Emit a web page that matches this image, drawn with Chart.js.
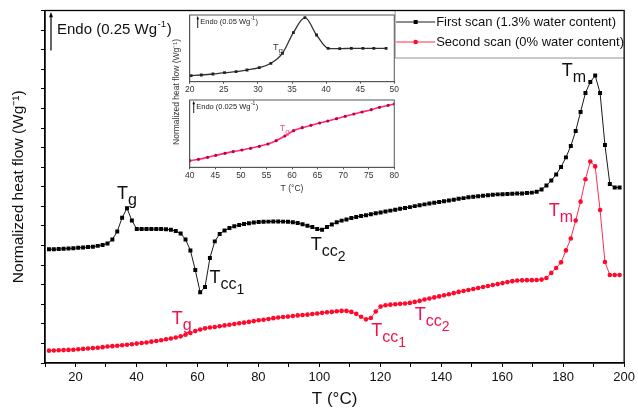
<!DOCTYPE html>
<html>
<head>
<meta charset="utf-8">
<script src="https://cdn.jsdelivr.net/npm/chart.js@4.4.0/dist/chart.umd.min.js"></script>
<style>
html,body{margin:0;padding:0;background:#fff;}
#wrap{position:relative;width:638px;height:412px;overflow:hidden;}
canvas{position:absolute;}
#main{left:0;top:0;width:638px;height:412px;}
#in1{left:184px;top:8px;width:216px;height:92px;}
#in2{left:184px;top:96px;width:216px;height:100px;}
</style>
</head>
<body>
<div id="wrap">
<canvas id="main" width="638" height="412"></canvas>
<canvas id="in1" width="216" height="92"></canvas>
<canvas id="in2" width="216" height="100"></canvas>
</div>
<script>
// ---------------- DATA ----------------
const temperature = [11.3,12.9,14.5,16.1,17.7,19.3,20.9,22.5,24.1,25.7,27.3,28.9,30.5,32.1,33.7,35.3,36.9,38.5,40.1,41.7,
43.3,44.9,46.5,48.1,49.7,51.3,52.9,54.5,56.1,57.7,59.3,60.9,62.5,64.1,65.7,67.3,68.9,70.5,72.1,73.7,
75.3,76.9,78.5,80.1,81.7,83.3,84.9,86.5,88.1,89.7,91.3,92.9,94.5,96.1,97.7,99.3,100.9,102.5,104.1,105.7,
107.3,108.9,110.5,112.1,113.7,115.3,116.9,118.5,120.1,121.7,123.3,124.9,126.5,128.1,129.7,131.3,132.9,134.5,136.1,137.7,
139.3,140.9,142.5,144.1,145.7,147.3,148.9,150.5,152.1,153.7,155.3,156.9,158.5,160.1,161.7,163.3,164.9,166.5,168.1,169.7,
171.3,172.9,174.5,176.1,177.7,179.3,180.9,182.5,184.1,185.7,187.3,188.9,190.5,192.1,193.7,195.3,196.9,198.5];

const firstScanFlow = [5.81,5.81,5.82,5.83,5.85,5.86,5.88,5.90,5.92,5.94,
5.98,6.03,6.10,6.31,6.72,7.42,7.90,7.28,6.84,6.84,
6.84,6.84,6.84,6.84,6.83,6.80,6.74,6.61,6.31,5.75,
4.75,3.61,3.88,5.36,6.21,6.59,6.77,6.89,6.98,7.05,
7.10,7.14,7.17,7.20,7.21,7.22,7.23,7.23,7.22,7.21,
7.19,7.15,7.08,7.01,6.94,6.84,6.80,6.95,7.07,7.19,
7.27,7.33,7.40,7.45,7.51,7.55,7.60,7.65,7.69,7.74,
7.78,7.83,7.88,7.92,7.96,8.01,8.05,8.10,8.14,8.18,
8.22,8.26,8.30,8.34,8.39,8.42,8.46,8.49,8.52,8.54,
8.57,8.59,8.61,8.62,8.63,8.64,8.65,8.66,8.68,8.70,
8.74,8.86,9.06,9.32,9.63,10.01,10.50,11.08,11.85,12.82,
13.79,14.35,14.68,13.79,11.13,9.14,8.96,8.96];

const secondScanFlow = [0.63,0.64,0.65,0.66,0.67,0.68,0.70,0.72,0.74,0.76,
0.78,0.81,0.84,0.86,0.88,0.91,0.93,0.96,0.99,1.02,
1.05,1.09,1.12,1.16,1.21,1.25,1.30,1.36,1.44,1.53,
1.63,1.71,1.77,1.81,1.84,1.88,1.92,1.95,1.99,2.03,
2.06,2.10,2.14,2.18,2.21,2.25,2.29,2.32,2.35,2.37,
2.40,2.43,2.45,2.47,2.50,2.53,2.56,2.59,2.61,2.64,
2.66,2.66,2.61,2.51,2.36,2.23,2.30,2.63,2.88,2.95,
2.98,3.00,3.02,3.04,3.07,3.12,3.17,3.24,3.29,3.35,
3.40,3.46,3.51,3.57,3.63,3.68,3.73,3.78,3.83,3.88,
3.93,3.98,4.03,4.08,4.13,4.18,4.21,4.22,4.23,4.23,
4.24,4.26,4.34,4.60,4.85,5.14,5.75,6.36,7.28,8.24,
9.38,10.29,10.04,7.81,5.16,4.49,4.49,4.49];

const xTickLabels = [20,40,60,80,100,120,140,160,180,200];

const inset1Temp = [20.2,21.7,23.4,25.1,26.8,28.4,30.2,31.9,33.6,35.2,36.9,38.6,40.3,42.0,43.7,45.4,47.0,48.8];
const inset1Flow = [6.0,6.7,7.7,9.0,10.0,11.7,14.0,18.4,28.4,49.0,64.0,46.7,33.4,33.0,33.4,33.4,33.4,33.4];

const inset2Temp = [40.0,41.7,43.5,45.1,46.9,48.5,50.2,51.9,53.6,55.3,56.9,58.6,60.3,62.0,63.7,65.4,67.0,68.7,70.4,72.1,73.7,75.5,77.1,78.8,80.0];
const inset2Flow = [6.6,8.0,10.0,12.0,14.0,15.7,17.3,19.0,21.0,23.3,26.6,31.3,36.6,39.6,42.0,44.3,46.3,48.6,51.0,53.3,55.3,57.6,60.0,62.0,63.3];

const seriesNames = ['First scan (1.3% water content)','Second scan (0% water content)'];

// transition labels: main letter, subscript, sub-subscript, position (T, flow)
const peakLabels = [
  {main:'T', sub:'g',  sub2:'',  t:33.6,  v:8.40, series:0},
  {main:'T', sub:'cc', sub2:'1', t:64.0,  v:4.09, series:0},
  {main:'T', sub:'cc', sub2:'2', t:97.2,  v:5.77, series:0},
  {main:'T', sub:'m',  sub2:'',  t:179.5, v:14.66, series:0},
  {main:'T', sub:'g',  sub2:'',  t:51.6,  v:1.99, series:1},
  {main:'T', sub:'cc', sub2:'1', t:117.0, v:1.38, series:1},
  {main:'T', sub:'cc', sub2:'2', t:131.3, v:2.20, series:1},
  {main:'T', sub:'m',  sub2:'',  t:175.3, v:7.53, series:1}
];

// ---------------- STYLE ----------------
const FONT = "'Liberation Sans', Arial, Helvetica, sans-serif";
const BLACK = '#111111';
const RED_LINE = '#ff2a55';
const RED_PT = '#ff0a2a';
const RED_TXT = '#f0124e';

function drawSubText(ctx, x, y, lab, color, s) {
  ctx.fillStyle = color;
  ctx.textAlign = 'left';
  ctx.textBaseline = 'alphabetic';
  ctx.font = s[0] + 'px ' + FONT;
  ctx.fillText(lab.main, x, y);
  x += ctx.measureText(lab.main).width;
  if (lab.sub) {
    ctx.font = s[1] + 'px ' + FONT;
    ctx.fillText(lab.sub, x, y + s[3]);
    x += ctx.measureText(lab.sub).width;
  }
  if (lab.sub2) {
    ctx.font = s[2] + 'px ' + FONT;
    ctx.fillText(lab.sub2, x, y + s[4]);
  }
}

function drawArrow(ctx, x, y0, y1, head, color, lw) {
  ctx.save();
  ctx.strokeStyle = color; ctx.fillStyle = color; ctx.lineWidth = lw;
  ctx.beginPath(); ctx.moveTo(x, y0); ctx.lineTo(x, y1 + head); ctx.stroke();
  ctx.beginPath(); ctx.moveTo(x, y1); ctx.lineTo(x - head * 0.5, y1 + head * 1.3); ctx.lineTo(x + head * 0.5, y1 + head * 1.3); ctx.closePath(); ctx.fill();
  ctx.restore();
}

function drawEndo(ctx, x, y, value, size, color) {
  ctx.save();
  ctx.fillStyle = color; ctx.textAlign = 'left'; ctx.textBaseline = 'alphabetic';
  ctx.font = size + 'px ' + FONT;
  const t1 = 'Endo (' + value + ' Wg';
  ctx.fillText(t1, x, y);
  let w = ctx.measureText(t1).width;
  ctx.font = (size * 0.65) + 'px ' + FONT;
  ctx.fillText('-1', x + w + 0.5, y - size * 0.42);
  w += ctx.measureText('-1').width + 1;
  ctx.font = size + 'px ' + FONT;
  ctx.fillText(')', x + w, y);
  ctx.restore();
}

const boxPlugin = {
  id: 'boxFrame',
  afterDraw(chart, args, opts) {
    const {ctx, chartArea: a} = chart;
    ctx.save();
    ctx.strokeStyle = opts.color || '#000';
    ctx.lineWidth = opts.width || 1;
    ctx.strokeRect(a.left, a.top, a.right - a.left, a.bottom - a.top);
    ctx.restore();
  }
};

const mainDecor = {
  id: 'mainDecor',
  afterDatasetsDraw(chart) {
    const {ctx, chartArea: a, scales} = chart;
    const xs = scales.x, ys = scales.y;
    ctx.save();
    // transition labels
    peakLabels.forEach(l => {
      const px = xs.getPixelForValue(l.t), py = ys.getPixelForValue(l.v);
      drawSubText(ctx, px, py, l, l.series === 0 ? BLACK : RED_TXT, [18, 16, 14, 6, 11]);
    });
    // endo arrow
    drawArrow(ctx, a.left + 6, a.top + 40, a.top + 1.5, 4, '#000', 1.2);
    drawEndo(ctx, a.left + 12, a.top + 23, '0.25', 15, BLACK);
    // legend
    const lx = a.right - 229, lyTop = a.top;
    ctx.strokeStyle = '#777'; ctx.lineWidth = 0.8;
    ctx.beginPath(); ctx.moveTo(lx, lyTop); ctx.lineTo(lx, lyTop + 47.5); ctx.lineTo(a.right, lyTop + 47.5); ctx.stroke();
    chart.data.datasets.forEach((ds, i) => {
      const y = lyTop + 11.5 + i * 20;
      ctx.strokeStyle = ds.borderColor; ctx.lineWidth = 1;
      ctx.beginPath(); ctx.moveTo(lx + 1, y); ctx.lineTo(lx + 40, y); ctx.stroke();
      ctx.fillStyle = ds.pointBackgroundColor;
      if (ds.pointStyle === 'rect') { ctx.fillRect(lx + 18.5, y - 2, 4, 4); }
      else { ctx.beginPath(); ctx.arc(lx + 20.5, y, 2.3, 0, Math.PI * 2); ctx.fill(); }
      ctx.fillStyle = BLACK; ctx.font = '13px ' + FONT; ctx.textBaseline = 'middle'; ctx.textAlign = 'left';
      ctx.fillText(ds.label, lx + 41, y + 0.5);
    });
    // inset shared y title
    ctx.translate(176.5, 92);
    ctx.rotate(-Math.PI / 2);
    ctx.fillStyle = '#333'; ctx.font = '8.5px ' + FONT; ctx.textAlign = 'center'; ctx.textBaseline = 'middle';
    ctx.fillText('Normalized heat flow (Wg\u207B\u00B9)', 0, 0);
    ctx.restore();
  }
};

Chart.defaults.font.family = FONT;

new Chart(document.getElementById('main'), {
  type: 'line',
  data: {
    datasets: [
      {
        label: seriesNames[0],
        data: temperature.map((t, i) => ({x: t, y: firstScanFlow[i]})),
        borderColor: '#1a1a1a', borderWidth: 1,
        pointStyle: 'rect', pointRadius: 2.8, pointBackgroundColor: '#000', pointBorderWidth: 0,
        tension: 0
      },
      {
        label: seriesNames[1],
        data: temperature.map((t, i) => ({x: t, y: secondScanFlow[i]})),
        borderColor: RED_LINE, borderWidth: 1,
        pointStyle: 'circle', pointRadius: 2.3, pointBackgroundColor: RED_PT, pointBorderWidth: 0,
        tension: 0
      }
    ]
  },
  options: {
    responsive: false, animation: false, devicePixelRatio: 1,
    layout: {autoPadding: false, padding: {top: 10.5, right: 9, left: 0, bottom: 0}},
    plugins: {legend: {display: false}, tooltip: {enabled: false}, boxFrame: {color: '#000', width: 1.3}},
    scales: {
      x: {
        type: 'linear', min: 10, max: 200,
        ticks: {stepSize: 10, autoSkip: false, maxRotation: 0, padding: 3, color: BLACK,
          font: {size: 13}, callback: v => xTickLabels.includes(v) ? String(v) : ''},
        grid: {drawOnChartArea: false, drawTicks: true, tickLength: 4, color: '#000', lineWidth: 1},
        border: {display: true, color: '#000', width: 1.3},
        title: {display: true, text: 'T (\u00B0C)', color: BLACK, font: {size: 17}, padding: {top: 0, bottom: 2}},
        afterFit: s => { s.height = 49; }
      },
      y: {
        type: 'linear', min: 0, max: 18,
        ticks: {stepSize: 1, display: false},
        grid: {drawOnChartArea: false, drawTicks: true, tickLength: 4, color: '#000', lineWidth: 1},
        border: {display: true, color: '#000', width: 1.3},
        title: {display: true, text: 'Normalized heat flow (Wg\u207B\u00B9)', color: BLACK, font: {size: 15.5}, padding: {top: 9, bottom: 0}},
        afterFit: s => { s.width = 45; }
      }
    }
  },
  plugins: [boxPlugin, mainDecor]
});

function insetDecor(id, endoValue, endoOffset, tgLabel, tgColor, tgSize) {
  return {
    id: id,
    afterDatasetsDraw(chart) {
      const {ctx, chartArea: a, scales} = chart;
      ctx.save();
      drawArrow(ctx, a.left + endoOffset, a.top + 13, a.top + 1, 2.5, '#000', 0.9);
      drawEndo(ctx, a.left + endoOffset + 2.5, a.top + 8.5, endoValue, 7.5, '#222');
      const px = scales.x.getPixelForValue(tgLabel.t), py = scales.y.getPixelForValue(tgLabel.v);
      drawSubText(ctx, px, py, tgLabel, tgColor, [tgSize, tgSize - 1, tgSize - 2, 3, 5]);
      ctx.restore();
    }
  };
}

const insetTicks = {padding: 1, color: '#333', font: {size: 8.5}, maxRotation: 0, autoSkip: false};

new Chart(document.getElementById('in1'), {
  type: 'line',
  data: {datasets: [{
    label: seriesNames[0],
    data: inset1Temp.map((t, i) => ({x: t, y: inset1Flow[i]})),
    borderColor: '#333', borderWidth: 1.3, cubicInterpolationMode: 'monotone',
    pointStyle: 'rect', pointRadius: 2, pointBackgroundColor: '#222', pointBorderWidth: 0
  }]},
  options: {
    responsive: false, animation: false, devicePixelRatio: 1,
    layout: {autoPadding: false, padding: {top: 7, right: 3, left: 4, bottom: 0}},
    plugins: {legend: {display: false}, tooltip: {enabled: false}, boxFrame: {color: '#555', width: 1}},
    scales: {
      x: {type: 'linear', min: 20, max: 50, ticks: Object.assign({stepSize: 5}, insetTicks),
        grid: {drawOnChartArea: false, tickLength: 2, color: '#555'}, border: {color: '#555'},
        afterFit: s => { s.height = 18.3; }},
      y: {min: 0, max: 66.7, ticks: {display: false}, grid: {display: false}, border: {color: '#555'},
        afterFit: s => { s.width = 0; }}
    }
  },
  plugins: [boxPlugin, insetDecor('d1', '0.05', 8, {main: 'T', sub: 'g', sub2: '', t: 32.2, v: 31.7}, '#333', 9)]
});

new Chart(document.getElementById('in2'), {
  type: 'line',
  data: {datasets: [{
    label: seriesNames[1],
    data: inset2Temp.map((t, i) => ({x: t, y: inset2Flow[i]})),
    borderColor: '#ff2d6e', borderWidth: 1.6, cubicInterpolationMode: 'monotone',
    pointStyle: 'circle', pointRadius: 1.6, pointBackgroundColor: '#c0003a', pointBorderWidth: 0
  }]},
  options: {
    responsive: false, animation: false, devicePixelRatio: 1,
    layout: {autoPadding: false, padding: {top: 4, right: 2.7, left: 5.3, bottom: 0}},
    plugins: {legend: {display: false}, tooltip: {enabled: false}, boxFrame: {color: '#555', width: 1}},
    scales: {
      x: {type: 'linear', min: 40, max: 80, ticks: Object.assign({stepSize: 5}, insetTicks),
        grid: {drawOnChartArea: false, tickLength: 2, color: '#555'}, border: {color: '#555'},
        title: {display: true, text: 'T (\u00B0C)', color: '#333', font: {size: 8.5}, padding: {top: 0, bottom: 2.5}},
        afterFit: s => { s.height = 28.7; }},
      y: {min: 0, max: 67.3, ticks: {display: false}, grid: {display: false}, border: {color: '#555'},
        afterFit: s => { s.width = 0; }}
    }
  },
  plugins: [boxPlugin, insetDecor('d2', '0.025', 4, {main: 'T', sub: 'g', sub2: '', t: 57.6, v: 36.3}, '#ff4d88', 9)]
});
</script>
</body>
</html>
